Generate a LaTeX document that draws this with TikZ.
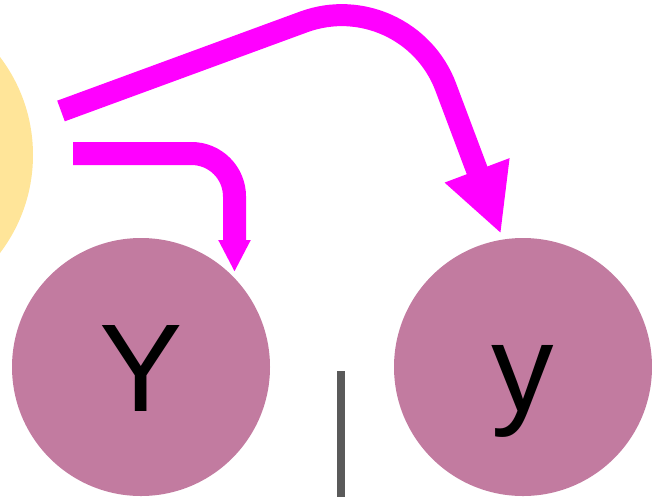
\documentclass[tikz,border=0pt]{standalone}
\usepackage{fontspec}
\setmainfont{Liberation Sans}
\usetikzlibrary{arrows.meta}
\definecolor{sun}{HTML}{FFE599}
\definecolor{plum}{HTML}{C27BA0}
\definecolor{fuchsia}{HTML}{FF00FF}
\definecolor{slate}{HTML}{5A5A5A}
\begin{document}
\begin{tikzpicture}[x=1pt,y=-1pt,
  ball/.style={circle, fill=plum, minimum size=258pt, inner sep=0pt,
    font=\fontsize{125}{125}\selectfont, text height=89.5pt, text depth=0pt},
  flow/.style={draw=fuchsia, line width=22pt}]
\useasboundingbox (0,0) rectangle (652,496);
\begin{scope}
  \clip (0,0) rectangle (652,496);
  % source disc, partly off the left edge
  \node[circle, fill=sun, minimum size=324pt, inner sep=0pt] (src) at (-129,155) {};
  % the two target discs
  \node[ball] (Y) at (141,367) {Y};
  \node[ball] (y) at (523,367) {y};
  % divider
  \coordinate (d1) at (340.5,371);
  \coordinate (d2) at (340.5,500);
  \draw[slate, line width=8pt] (d1) -- (d2);
  % short bent arrow to Y
  \coordinate (s1) at (73,153.5);
  \coordinate (t1) at (234.5,272);
  \draw[flow, line width=23pt, rounded corners=43pt,
    -{Triangle[length=32pt,width=30pt]}] (s1) -| (t1);
  % long arched arrow to y
  \coordinate (s2) at (61,111);
  \coordinate (k) at (407,-16);
  \coordinate (t2) at (501,234);
  \draw[flow, rounded corners=110pt,
    -{Triangle[length=68pt,width=64pt]}] (s2) -- (k) -- (t2);
\end{scope}
\end{tikzpicture}
\end{document}
